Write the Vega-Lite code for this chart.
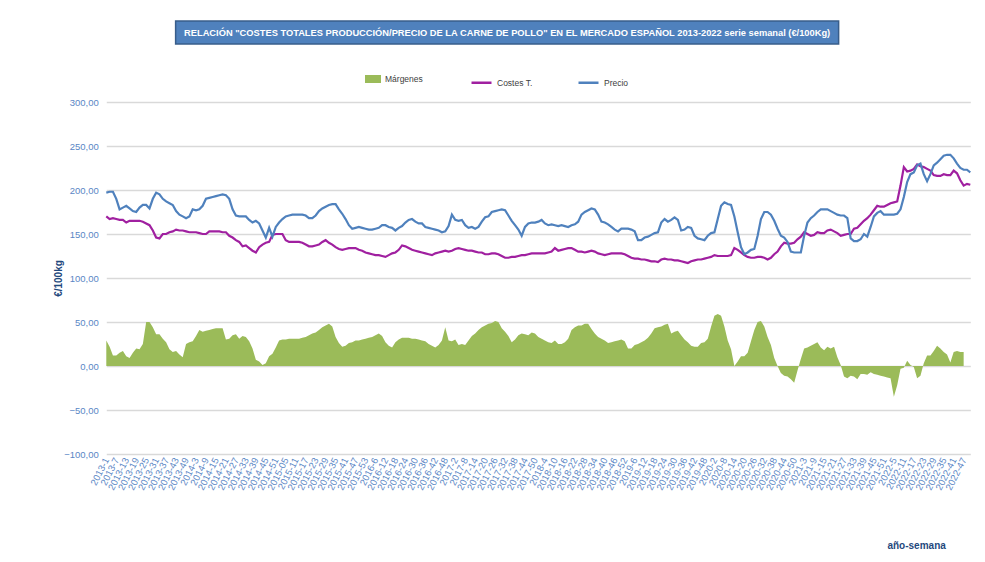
{
  "$schema": "https://vega.github.io/schema/vega-lite/v6.json",
  "background": "white",
  "padding": {"left": 53, "top": 20, "right": 10, "bottom": 5},
  "spacing": 52,
  "center": true,
  "config": {
    "view": {"stroke": null},
    "font": "Liberation Sans",
    "axis": {"labelFont": "Liberation Sans", "titleFont": "Liberation Sans"},
    "legend": {"labelFont": "Liberation Sans", "labelFontSize": 8.5, "labelColor": "#404040"}
  },
  "datasets": {
    "t": [{"t": "RELACIÓN \"COSTES TOTALES PRODUCCIÓN/PRECIO DE LA CARNE DE POLLO\" EN EL MERCADO ESPAÑOL 2013-2022 serie semanal (€/100Kg)"}],
    "d": [
      {"w":"2013-1","p":197,"c":170,"m":29},
      {"w":"2013-3","p":198,"c":167,"m":22},
      {"w":"2013-5","p":198,"c":168,"m":12},
      {"w":"2013-7","p":190,"c":167,"m":12},
      {"w":"2013-9","p":178,"c":166,"m":15},
      {"w":"2013-11","p":180,"c":166,"m":17},
      {"w":"2013-13","p":182,"c":163,"m":11},
      {"w":"2013-15","p":179,"c":165,"m":9},
      {"w":"2013-17","p":176,"c":165,"m":15},
      {"w":"2013-19","p":175,"c":165,"m":20},
      {"w":"2013-21","p":180,"c":165,"m":19},
      {"w":"2013-23","p":183,"c":164,"m":25},
      {"w":"2013-25","p":183,"c":162,"m":50},
      {"w":"2013-27","p":179,"c":160,"m":50},
      {"w":"2013-29","p":190,"c":154,"m":44},
      {"w":"2013-31","p":197,"c":146,"m":36},
      {"w":"2013-33","p":195,"c":145,"m":36},
      {"w":"2013-35","p":190,"c":150,"m":31},
      {"w":"2013-37","p":187,"c":150,"m":27},
      {"w":"2013-39","p":185,"c":152,"m":19},
      {"w":"2013-41","p":183,"c":153,"m":16},
      {"w":"2013-43","p":176,"c":155,"m":17},
      {"w":"2013-45","p":172,"c":154,"m":13},
      {"w":"2013-47","p":170,"c":154,"m":10},
      {"w":"2013-49","p":168,"c":153,"m":25},
      {"w":"2013-51","p":170,"c":152,"m":27},
      {"w":"2014-1","p":178,"c":152,"m":28},
      {"w":"2014-3","p":177,"c":152,"m":34},
      {"w":"2014-5","p":178,"c":151,"m":41},
      {"w":"2014-7","p":182,"c":150,"m":39},
      {"w":"2014-9","p":190,"c":150,"m":40},
      {"w":"2014-11","p":191,"c":153,"m":41},
      {"w":"2014-13","p":192,"c":153,"m":42},
      {"w":"2014-15","p":193,"c":153,"m":43},
      {"w":"2014-17","p":194,"c":153,"m":43},
      {"w":"2014-19","p":195,"c":152,"m":43},
      {"w":"2014-21","p":194,"c":152,"m":30},
      {"w":"2014-23","p":190,"c":148,"m":31},
      {"w":"2014-25","p":178,"c":146,"m":35},
      {"w":"2014-27","p":171,"c":143,"m":36},
      {"w":"2014-29","p":170,"c":141,"m":31},
      {"w":"2014-31","p":170,"c":136,"m":34},
      {"w":"2014-33","p":170,"c":137,"m":33},
      {"w":"2014-35","p":166,"c":134,"m":28},
      {"w":"2014-37","p":163,"c":131,"m":20},
      {"w":"2014-39","p":165,"c":129,"m":7},
      {"w":"2014-41","p":162,"c":135,"m":5},
      {"w":"2014-43","p":154,"c":138,"m":1},
      {"w":"2014-45","p":146,"c":140,"m":3},
      {"w":"2014-47","p":157,"c":141,"m":11},
      {"w":"2014-49","p":147,"c":149,"m":14},
      {"w":"2014-51","p":158,"c":150,"m":21},
      {"w":"2015-01","p":163,"c":150,"m":29},
      {"w":"2015-03","p":167,"c":150,"m":30},
      {"w":"2015-05","p":170,"c":143,"m":30},
      {"w":"2015-07","p":171,"c":141,"m":31},
      {"w":"2015-09","p":172,"c":141,"m":31},
      {"w":"2015-11","p":172,"c":141,"m":31},
      {"w":"2015-13","p":172,"c":141,"m":31},
      {"w":"2015-15","p":172,"c":140,"m":32},
      {"w":"2015-17","p":171,"c":138,"m":33},
      {"w":"2015-19","p":168,"c":136,"m":35},
      {"w":"2015-21","p":168,"c":136,"m":37},
      {"w":"2015-23","p":171,"c":137,"m":38},
      {"w":"2015-25","p":176,"c":138,"m":41},
      {"w":"2015-27","p":179,"c":141,"m":44},
      {"w":"2015-29","p":181,"c":143,"m":46},
      {"w":"2015-31","p":183,"c":140,"m":48},
      {"w":"2015-33","p":184,"c":138,"m":45},
      {"w":"2015-35","p":184,"c":135,"m":33},
      {"w":"2015-37","p":178,"c":133,"m":26},
      {"w":"2015-39","p":173,"c":132,"m":22},
      {"w":"2015-41","p":167,"c":133,"m":23},
      {"w":"2015-43","p":160,"c":134,"m":26},
      {"w":"2015-45","p":156,"c":134,"m":27},
      {"w":"2015-47","p":157,"c":134,"m":29},
      {"w":"2015-49","p":158,"c":132,"m":29},
      {"w":"2015-51","p":157,"c":131,"m":30},
      {"w":"2015-53","p":156,"c":129,"m":31},
      {"w":"2016-2","p":155,"c":128,"m":32},
      {"w":"2016-4","p":155,"c":127,"m":33},
      {"w":"2016-6","p":156,"c":126,"m":35},
      {"w":"2016-8","p":157,"c":126,"m":37},
      {"w":"2016-10","p":160,"c":125,"m":34},
      {"w":"2016-12","p":160,"c":124,"m":27},
      {"w":"2016-14","p":158,"c":126,"m":23},
      {"w":"2016-16","p":157,"c":128,"m":21},
      {"w":"2016-18","p":154,"c":129,"m":27},
      {"w":"2016-20","p":157,"c":132,"m":30},
      {"w":"2016-22","p":159,"c":137,"m":32},
      {"w":"2016-24","p":163,"c":136,"m":32},
      {"w":"2016-26","p":166,"c":134,"m":32},
      {"w":"2016-28","p":167,"c":132,"m":31},
      {"w":"2016-30","p":164,"c":131,"m":31},
      {"w":"2016-32","p":162,"c":130,"m":30},
      {"w":"2016-34","p":162,"c":129,"m":29},
      {"w":"2016-36","p":158,"c":128,"m":28},
      {"w":"2016-38","p":157,"c":127,"m":25},
      {"w":"2016-40","p":156,"c":126,"m":23},
      {"w":"2016-42","p":155,"c":128,"m":21},
      {"w":"2016-44","p":154,"c":129,"m":24},
      {"w":"2016-46","p":152,"c":130,"m":29},
      {"w":"2016-48","p":153,"c":131,"m":44},
      {"w":"2016-50","p":159,"c":130,"m":29},
      {"w":"2016-52","p":172,"c":131,"m":28},
      {"w":"2017-2","p":166,"c":133,"m":30},
      {"w":"2017-4","p":165,"c":134,"m":24},
      {"w":"2017-6","p":166,"c":133,"m":25},
      {"w":"2017-8","p":160,"c":132,"m":24},
      {"w":"2017-10","p":157,"c":131,"m":29},
      {"w":"2017-12","p":158,"c":131,"m":34},
      {"w":"2017-14","p":156,"c":130,"m":37},
      {"w":"2017-16","p":158,"c":129,"m":41},
      {"w":"2017-18","p":164,"c":129,"m":44},
      {"w":"2017-20","p":169,"c":127,"m":46},
      {"w":"2017-22","p":170,"c":127,"m":48},
      {"w":"2017-24","p":175,"c":128,"m":49},
      {"w":"2017-26","p":176,"c":128,"m":51},
      {"w":"2017-28","p":177,"c":127,"m":50},
      {"w":"2017-30","p":178,"c":125,"m":43},
      {"w":"2017-32","p":177,"c":123,"m":39},
      {"w":"2017-34","p":171,"c":123,"m":34},
      {"w":"2017-36","p":165,"c":124,"m":27},
      {"w":"2017-38","p":160,"c":124,"m":30},
      {"w":"2017-40","p":155,"c":125,"m":35},
      {"w":"2017-42","p":148,"c":126,"m":37},
      {"w":"2017-44","p":158,"c":126,"m":36},
      {"w":"2017-46","p":162,"c":127,"m":35},
      {"w":"2017-48","p":163,"c":128,"m":38},
      {"w":"2017-50","p":163,"c":128,"m":37},
      {"w":"2017-52","p":164,"c":128,"m":33},
      {"w":"2018-2","p":166,"c":128,"m":31},
      {"w":"2018-4","p":162,"c":128,"m":29},
      {"w":"2018-6","p":160,"c":129,"m":27},
      {"w":"2018-8","p":161,"c":130,"m":26},
      {"w":"2018-10","p":160,"c":134,"m":29},
      {"w":"2018-12","p":159,"c":131,"m":25},
      {"w":"2018-14","p":160,"c":132,"m":25},
      {"w":"2018-16","p":159,"c":133,"m":27},
      {"w":"2018-18","p":158,"c":134,"m":31},
      {"w":"2018-20","p":160,"c":134,"m":41},
      {"w":"2018-22","p":161,"c":132,"m":44},
      {"w":"2018-24","p":164,"c":130,"m":46},
      {"w":"2018-26","p":172,"c":130,"m":46},
      {"w":"2018-28","p":175,"c":129,"m":48},
      {"w":"2018-30","p":177,"c":130,"m":48},
      {"w":"2018-32","p":179,"c":131,"m":42},
      {"w":"2018-34","p":178,"c":130,"m":37},
      {"w":"2018-36","p":172,"c":128,"m":33},
      {"w":"2018-38","p":164,"c":127,"m":31},
      {"w":"2018-40","p":163,"c":126,"m":29},
      {"w":"2018-42","p":161,"c":127,"m":26},
      {"w":"2018-44","p":158,"c":128,"m":27},
      {"w":"2018-46","p":155,"c":128,"m":28},
      {"w":"2018-48","p":153,"c":128,"m":29},
      {"w":"2018-50","p":156,"c":128,"m":30},
      {"w":"2018-52","p":156,"c":127,"m":28},
      {"w":"2019-2","p":156,"c":125,"m":20},
      {"w":"2019-4","p":155,"c":123,"m":20},
      {"w":"2019-6","p":153,"c":122,"m":24},
      {"w":"2019-8","p":143,"c":122,"m":25},
      {"w":"2019-10","p":143,"c":121,"m":27},
      {"w":"2019-12","p":146,"c":121,"m":29},
      {"w":"2019-14","p":147,"c":120,"m":32},
      {"w":"2019-16","p":149,"c":119,"m":37},
      {"w":"2019-18","p":151,"c":119,"m":43},
      {"w":"2019-20","p":152,"c":118,"m":44},
      {"w":"2019-22","p":163,"c":121,"m":45},
      {"w":"2019-24","p":167,"c":122,"m":47},
      {"w":"2019-26","p":164,"c":121,"m":48},
      {"w":"2019-28","p":166,"c":121,"m":37},
      {"w":"2019-30","p":169,"c":120,"m":39},
      {"w":"2019-32","p":166,"c":120,"m":40},
      {"w":"2019-34","p":154,"c":119,"m":35},
      {"w":"2019-36","p":155,"c":118,"m":30},
      {"w":"2019-38","p":158,"c":117,"m":27},
      {"w":"2019-40","p":157,"c":119,"m":23},
      {"w":"2019-42","p":148,"c":120,"m":22},
      {"w":"2019-44","p":145,"c":121,"m":22},
      {"w":"2019-46","p":144,"c":121,"m":26},
      {"w":"2019-48","p":143,"c":122,"m":27},
      {"w":"2019-50","p":148,"c":123,"m":31},
      {"w":"2019-52","p":151,"c":124,"m":45},
      {"w":"2020-2","p":152,"c":126,"m":57},
      {"w":"2020-4","p":167,"c":125,"m":59},
      {"w":"2020-6","p":182,"c":125,"m":57},
      {"w":"2020-8","p":186,"c":125,"m":45},
      {"w":"2020-10","p":184,"c":125,"m":29},
      {"w":"2020-12","p":183,"c":126,"m":19},
      {"w":"2020-14","p":170,"c":134,"m":0},
      {"w":"2020-16","p":152,"c":132,"m":5},
      {"w":"2020-18","p":135,"c":129,"m":11},
      {"w":"2020-20","p":127,"c":126,"m":11},
      {"w":"2020-22","p":129,"c":124,"m":15},
      {"w":"2020-24","p":132,"c":123,"m":28},
      {"w":"2020-26","p":133,"c":123,"m":41},
      {"w":"2020-28","p":148,"c":124,"m":50},
      {"w":"2020-30","p":167,"c":124,"m":51},
      {"w":"2020-32","p":175,"c":123,"m":45},
      {"w":"2020-34","p":175,"c":121,"m":33},
      {"w":"2020-36","p":172,"c":123,"m":24},
      {"w":"2020-38","p":165,"c":127,"m":9},
      {"w":"2020-40","p":156,"c":130,"m":0},
      {"w":"2020-42","p":148,"c":136,"m":-8},
      {"w":"2020-44","p":146,"c":140,"m":-11},
      {"w":"2020-46","p":141,"c":139,"m":-12},
      {"w":"2020-48","p":130,"c":139,"m":-15},
      {"w":"2020-50","p":129,"c":140,"m":-19},
      {"w":"2020-52","p":129,"c":144,"m":-5},
      {"w":"2021-1","p":129,"c":147,"m":8},
      {"w":"2021-3","p":148,"c":152,"m":20},
      {"w":"2021-5","p":163,"c":150,"m":21},
      {"w":"2021-7","p":168,"c":148,"m":23},
      {"w":"2021-9","p":171,"c":149,"m":25},
      {"w":"2021-11","p":175,"c":152,"m":27},
      {"w":"2021-13","p":178,"c":151,"m":21},
      {"w":"2021-15","p":178,"c":151,"m":18},
      {"w":"2021-17","p":178,"c":154,"m":22},
      {"w":"2021-19","p":176,"c":155,"m":20},
      {"w":"2021-21","p":174,"c":153,"m":22},
      {"w":"2021-23","p":172,"c":151,"m":10},
      {"w":"2021-25","p":171,"c":148,"m":1},
      {"w":"2021-27","p":171,"c":149,"m":-12},
      {"w":"2021-29","p":168,"c":150,"m":-14},
      {"w":"2021-31","p":145,"c":150,"m":-11},
      {"w":"2021-33","p":142,"c":156,"m":-12},
      {"w":"2021-35","p":142,"c":157,"m":-15},
      {"w":"2021-37","p":144,"c":161,"m":-9},
      {"w":"2021-39","p":150,"c":165,"m":-9},
      {"w":"2021-41","p":147,"c":168,"m":-10},
      {"w":"2021-43","p":158,"c":172,"m":-7},
      {"w":"2021-45","p":170,"c":177,"m":-9},
      {"w":"2021-47","p":174,"c":182,"m":-10},
      {"w":"2021-49","p":176,"c":181,"m":-11},
      {"w":"2021-51","p":172,"c":181,"m":-12},
      {"w":"2022-1","p":172,"c":183,"m":-13},
      {"w":"2022-3","p":172,"c":185,"m":-14},
      {"w":"2022-5","p":172,"c":186,"m":-35},
      {"w":"2022-7","p":173,"c":187,"m":-22},
      {"w":"2022-9","p":178,"c":205,"m":-3},
      {"w":"2022-11","p":192,"c":226,"m":-2},
      {"w":"2022-13","p":209,"c":221,"m":6},
      {"w":"2022-15","p":218,"c":222,"m":1},
      {"w":"2022-17","p":220,"c":224,"m":-1},
      {"w":"2022-19","p":228,"c":229,"m":-14},
      {"w":"2022-21","p":230,"c":227,"m":-11},
      {"w":"2022-23","p":218,"c":226,"m":3},
      {"w":"2022-25","p":210,"c":224,"m":12},
      {"w":"2022-27","p":218,"c":222,"m":12},
      {"w":"2022-29","p":228,"c":217,"m":17},
      {"w":"2022-31","p":231,"c":216,"m":23},
      {"w":"2022-33","p":235,"c":216,"m":20},
      {"w":"2022-35","p":239,"c":218,"m":16},
      {"w":"2022-37","p":240,"c":217,"m":13},
      {"w":"2022-39","p":240,"c":217,"m":4},
      {"w":"2022-41","p":236,"c":222,"m":16},
      {"w":"2022-43","p":230,"c":219,"m":17},
      {"w":"2022-45","p":225,"c":211,"m":16},
      {"w":"2022-47","p":223,"c":205,"m":16},
      {"w":"2022-49","p":223,"c":207,"m":null},
      {"w":"2022-51","p":220,"c":206,"m":null}
    ]
  },
  "vconcat": [
    {
      "data": {"name": "t"},
      "width": 663,
      "height": 23,
      "view": {"fill": "#4f81bd", "stroke": "#385d8a", "strokeWidth": 1.5},
      "mark": {"type": "text", "color": "white", "fontWeight": "bold", "fontSize": 9.3, "font": "Liberation Sans"},
      "encoding": {
        "text": {"field": "t", "type": "nominal"},
        "y": {"field": "t", "type": "nominal", "axis": {"orient": "right", "labels": false, "ticks": false, "domain": false, "grid": false, "title": "-", "titleOpacity": 0, "titleFontSize": 10, "titlePadding": 56}}
      }
    },
    {
      "data": {"name": "d"},
      "width": 864,
      "height": 352,
      "encoding": {
        "x": {
          "field": "w",
          "type": "ordinal",
          "sort": null,
          "scale": {"type": "point", "padding": 0},
          "axis": {
            "values": ["2013-1","2013-7","2013-13","2013-19","2013-25","2013-31","2013-37","2013-43","2013-49","2014-3","2014-9","2014-15","2014-21","2014-27","2014-33","2014-39","2014-45","2014-51","2015-05","2015-11","2015-17","2015-23","2015-29","2015-35","2015-41","2015-47","2015-53","2016-6","2016-12","2016-18","2016-24","2016-30","2016-36","2016-42","2016-48","2017-2","2017-8","2017-14","2017-20","2017-26","2017-32","2017-38","2017-44","2017-50","2018-4","2018-10","2018-16","2018-22","2018-28","2018-34","2018-40","2018-46","2018-52","2019-6","2019-12","2019-18","2019-24","2019-30","2019-36","2019-42","2019-48","2020-2","2020-8","2020-14","2020-20","2020-26","2020-32","2020-38","2020-44","2020-50","2021-3","2021-9","2021-15","2021-21","2021-27","2021-33","2021-39","2021-45","2021-51","2022-5","2022-11","2022-17","2022-23","2022-29","2022-35","2022-41","2022-47"],
            "labelAngle": -63,
            "labelFontSize": 9.5,
            "labelColor": "#5a86c5",
            "labelOverlap": false,
            "labelPadding": 4,
            "ticks": false,
            "domain": false,
            "grid": false,
            "title": "año-semana",
            "titleX": 839,
            "titleAlign": "right",
            "titleFontWeight": "bold",
            "titleFontSize": 10,
            "titleColor": "#1f497d",
            "titlePadding": 49
          }
        }
      },
      "layer": [
        {
          "mark": {"type": "area"},
          "encoding": {
            "y": {
              "field": "m",
              "type": "quantitative",
              "stack": null,
              "scale": {"domain": [-100, 300], "nice": false},
              "axis": {
                "values": [-100, -50, 0, 50, 100, 150, 200, 250, 300],
                "labelExpr": "replace(format(datum.value, '.2f'), '.', ',')",
                "labelColor": "#5a86c5",
                "labelFontSize": 9.5,
                "labelPadding": 8,
                "ticks": false,
                "domain": false,
                "gridColor": "#d9d9d9",
                "gridWidth": 1.5,
                "title": "€/100kg",
                "titleColor": "#1f497d",
                "titleFontWeight": "bold",
                "titleFontSize": 10,
                "titlePadding": 0
              }
            },
            "fill": {
              "datum": "Márgenes",
              "scale": {"domain": ["Márgenes"], "range": ["#9bbb59"]},
              "legend": {"orient": "none", "legendX": 259, "legendY": 50, "title": null, "symbolType": "M-1,-0.5H1V0.5H-1Z", "symbolSize": 256, "symbolStrokeWidth": 0}
            }
          }
        },
        {
          "mark": {"type": "line", "strokeWidth": 2.2},
          "encoding": {
            "y": {"field": "c", "type": "quantitative"},
            "stroke": {
              "datum": "Costes T.",
              "scale": {"domain": ["Costes T.", "Precio"], "range": ["#a020a0", "#4f81bd"]},
              "legend": {"orient": "none", "legendX": 364, "legendY": 50, "direction": "horizontal", "title": null, "symbolType": "stroke", "symbolSize": 400, "symbolStrokeWidth": 2.5, "columnPadding": 40}
            }
          }
        },
        {
          "mark": {"type": "line", "strokeWidth": 2.2},
          "encoding": {
            "y": {"field": "p", "type": "quantitative"},
            "stroke": {"datum": "Precio"}
          }
        }
      ]
    }
  ]
}
